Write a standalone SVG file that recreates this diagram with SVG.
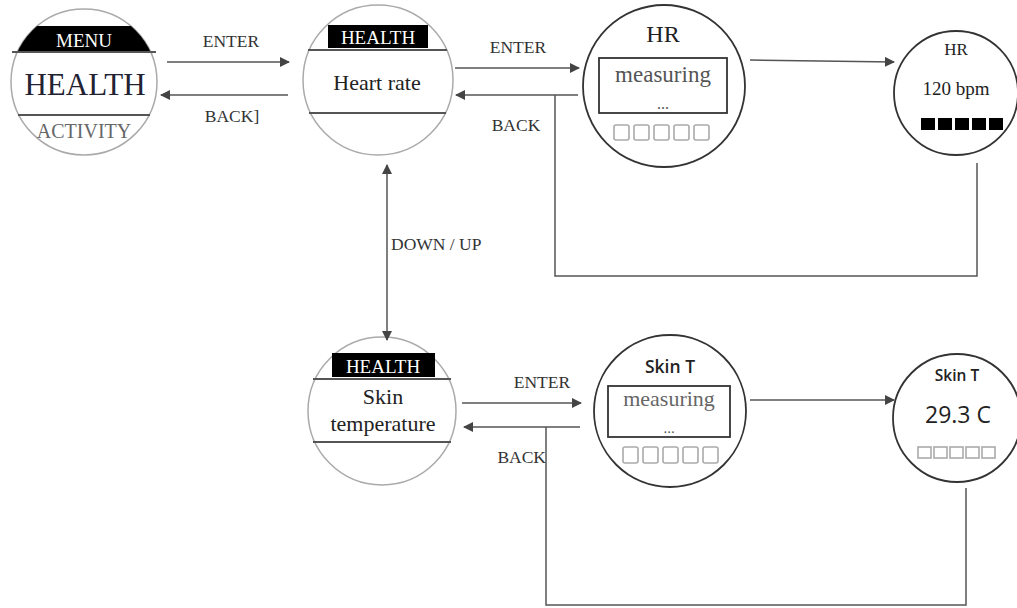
<svg xmlns="http://www.w3.org/2000/svg" width="1017" height="608" viewBox="0 0 1017 608">
<style>
.serif{font-family:"Liberation Serif","Times New Roman",serif}
.sans{font-family:"Open Sans","Noto Sans","Liberation Sans",sans-serif}
.lbl{font-size:17.5px;fill:#333}
.thin{fill:#fff;stroke:#aaa;stroke-width:1.5}
.thick{fill:#fff;stroke:#333;stroke-width:1.8}
.sep{stroke:#555;stroke-width:1.8}
.conn{stroke:#555;stroke-width:1.5;fill:none}
.sq{fill:none;stroke:#aaa;stroke-width:1.6}
.bsq{fill:#000}
</style>
<defs>
<marker id="ah" viewBox="0 0 10 10" refX="9" refY="5" markerWidth="10" markerHeight="10" markerUnits="userSpaceOnUse" orient="auto-start-reverse">
<path d="M0,0 L10,5 L0,10 z" fill="#444"/>
</marker>
<clipPath id="c1"><circle cx="84" cy="82" r="73"/></clipPath>
</defs>
<rect width="1017" height="608" fill="#fff"/>

<g id="node-menu">
<circle cx="84" cy="82" r="73" class="thin"/>
<rect x="0" y="26" width="170" height="26" fill="#000" clip-path="url(#c1)"/>
<line x1="12" y1="52" x2="156" y2="52" class="sep"/>
<line x1="18" y1="115" x2="150" y2="115" class="sep"/>
<text x="84" y="47" text-anchor="middle" class="serif" font-size="19" fill="#fff">MENU</text>
<text x="85" y="95" text-anchor="middle" class="serif" font-size="31" fill="#223">HEALTH</text>
<text x="84" y="138" text-anchor="middle" class="serif" font-size="20" fill="#666">ACTIVITY</text>
</g>

<g id="node-heartrate">
<circle cx="378" cy="80" r="75" class="thin"/>
<rect x="328" y="25" width="100" height="23" fill="#000"/>
<text x="378" y="44" text-anchor="middle" class="serif" font-size="19" fill="#fff">HEALTH</text>
<line x1="308" y1="50" x2="447" y2="50" class="sep"/>
<line x1="309" y1="113" x2="446" y2="113" class="sep"/>
<text x="377" y="90" text-anchor="middle" class="serif" font-size="22" fill="#222">Heart rate</text>
</g>

<g id="node-hr-measuring">
<circle cx="664" cy="86" r="81" class="thick"/>
<text x="663" y="42" text-anchor="middle" class="serif" font-size="24" fill="#222">HR</text>
<rect x="599" y="58" width="128" height="55" fill="none" stroke="#333" stroke-width="1.8"/>
<text x="663" y="82" text-anchor="middle" class="serif" font-size="23" fill="#555">measuring</text>
<text x="663" y="109" text-anchor="middle" class="serif" font-size="16" fill="#555">...</text>
<rect x="614" y="125" width="15" height="15" rx="2" class="sq"/>
<rect x="634" y="125" width="15" height="15" rx="2" class="sq"/>
<rect x="654" y="125" width="15" height="15" rx="2" class="sq"/>
<rect x="674" y="125" width="15" height="15" rx="2" class="sq"/>
<rect x="694" y="125" width="15" height="15" rx="2" class="sq"/>
</g>

<g id="node-hr-result">
<circle cx="956" cy="93" r="62" class="thick"/>
<text x="956" y="55" text-anchor="middle" class="serif" font-size="17" fill="#222">HR</text>
<text x="956" y="95" text-anchor="middle" class="serif" font-size="19" fill="#222">120 bpm</text>
<rect x="921" y="118" width="14" height="12" class="bsq"/>
<rect x="938" y="118" width="14" height="12" class="bsq"/>
<rect x="955" y="118" width="14" height="12" class="bsq"/>
<rect x="972" y="118" width="14" height="12" class="bsq"/>
<rect x="989" y="118" width="14" height="12" class="bsq"/>
</g>

<g id="node-skintemp">
<circle cx="382" cy="411" r="74" class="thin"/>
<rect x="332" y="353" width="103" height="24" fill="#000"/>
<text x="383" y="373" text-anchor="middle" class="serif" font-size="19" fill="#fff">HEALTH</text>
<line x1="313" y1="379" x2="451" y2="379" class="sep"/>
<line x1="313" y1="442" x2="451" y2="442" class="sep"/>
<text x="383" y="404" text-anchor="middle" class="serif" font-size="22" fill="#222">Skin</text>
<text x="383" y="431" text-anchor="middle" class="serif" font-size="22" fill="#222">temperature</text>
</g>

<g id="node-skin-measuring">
<circle cx="670" cy="411" r="76" class="thick"/>
<text x="670" y="373" text-anchor="middle" class="sans" font-size="17.5" font-weight="600" fill="#222">Skin T</text>
<rect x="608" y="386" width="122" height="51" fill="none" stroke="#333" stroke-width="1.8"/>
<text x="669" y="406" text-anchor="middle" class="serif" font-size="22" fill="#666">measuring</text>
<text x="669" y="433" text-anchor="middle" class="serif" font-size="15" fill="#555">...</text>
<rect x="623" y="447" width="15" height="16" rx="2" class="sq"/>
<rect x="643" y="447" width="15" height="16" rx="2" class="sq"/>
<rect x="663" y="447" width="15" height="16" rx="2" class="sq"/>
<rect x="683" y="447" width="15" height="16" rx="2" class="sq"/>
<rect x="703" y="447" width="15" height="16" rx="2" class="sq"/>
</g>

<g id="node-skin-result">
<circle cx="957" cy="418" r="64" class="thick"/>
<text x="957" y="381" text-anchor="middle" class="sans" font-size="15.5" font-weight="600" fill="#222">Skin T</text>
<text x="958" y="423" text-anchor="middle" class="sans" font-size="23" fill="#222">29.3 C</text>
<rect x="918" y="447" width="13" height="11" class="sq"/>
<rect x="934" y="447" width="13" height="11" class="sq"/>
<rect x="950" y="447" width="13" height="11" class="sq"/>
<rect x="966" y="447" width="13" height="11" class="sq"/>
<rect x="982" y="447" width="13" height="11" class="sq"/>
</g>

<g id="connectors">
<line x1="167" y1="62" x2="289" y2="62" class="conn" marker-end="url(#ah)"/>
<line x1="288" y1="95" x2="161" y2="95" class="conn" marker-end="url(#ah)"/>
<line x1="455" y1="68" x2="579" y2="68" class="conn" marker-end="url(#ah)"/>
<line x1="578" y1="95" x2="456" y2="95" class="conn" marker-end="url(#ah)"/>
<line x1="750" y1="60" x2="894" y2="62" class="conn" marker-end="url(#ah)"/>
<polyline points="555,95 555,276 977,276 977,163" class="conn"/>
<line x1="387" y1="165" x2="387" y2="340" class="conn" stroke-width="2" marker-start="url(#ah)" marker-end="url(#ah)"/>
<line x1="462" y1="403" x2="581" y2="403" class="conn" marker-end="url(#ah)"/>
<line x1="580" y1="427" x2="464" y2="427" class="conn" marker-end="url(#ah)"/>
<line x1="750" y1="400" x2="894" y2="400" class="conn" marker-end="url(#ah)"/>
<polyline points="546,427 546,605 966,605 966,488" class="conn"/>
</g>

<g id="labels" class="serif lbl">
<text x="231" y="47" text-anchor="middle">ENTER</text>
<text x="232" y="122" text-anchor="middle">BACK]</text>
<text x="518" y="53" text-anchor="middle">ENTER</text>
<text x="516" y="131" text-anchor="middle">BACK</text>
<text x="391" y="250">DOWN / UP</text>
<text x="542" y="388" text-anchor="middle">ENTER</text>
<text x="546" y="463" text-anchor="end">BACK</text>
</g>
</svg>
